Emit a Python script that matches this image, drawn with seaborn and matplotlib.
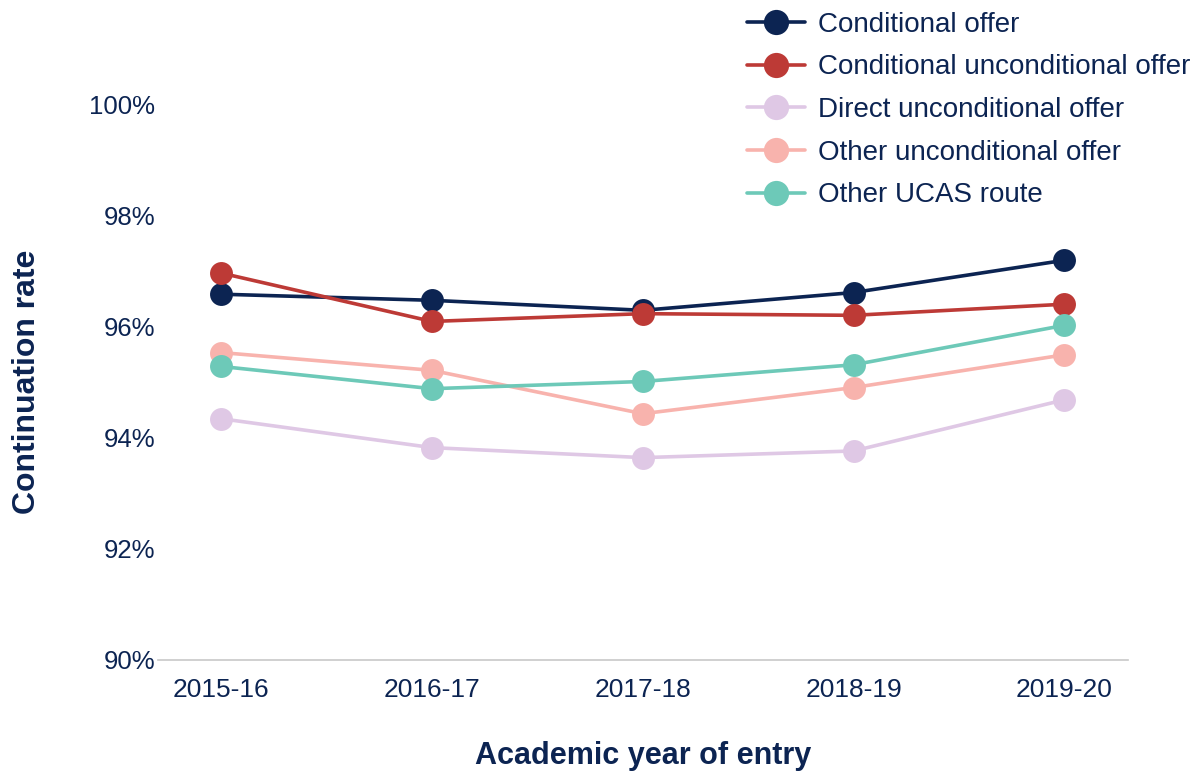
import pandas as pd
import matplotlib.pyplot as plt
import seaborn as sns

# values (continuation rate, %)
years = ['2015-16', '2016-17', '2017-18', '2018-19', '2019-20']
conditional = [96.58, 96.47, 96.29, 96.61, 97.19]
cond_uncond = [96.96, 96.09, 96.23, 96.20, 96.40]
direct_uncond = [94.34, 93.82, 93.64, 93.76, 94.68]
other_uncond = [95.53, 95.21, 94.43, 94.90, 95.49]
other_ucas = [95.28, 94.88, 95.01, 95.31, 96.02]

series_names = ['Conditional offer', 'Conditional unconditional offer',
                'Direct unconditional offer', 'Other unconditional offer',
                'Other UCAS route']
colours = ['#0c2452', '#bd3a36', '#dfc8e5', '#f8b3ad', '#6dc9b8']
navy = '#0c2452'

frames = []
for name, vals in zip(series_names, [conditional, cond_uncond, direct_uncond, other_uncond, other_ucas]):
    frames.append(pd.DataFrame({'year': years, 'rate': vals, 'route': name}))
df = pd.concat(frames, ignore_index=True)

sns.set_style('white')
plt.rcParams['font.family'] = ['Liberation Sans', 'DejaVu Sans']

fig = plt.figure(figsize=(11.97, 7.71), dpi=100)
ax = fig.add_axes([0.132, 0.144, 0.810, 0.721])

sns.lineplot(data=df, x='year', y='rate', hue='route', hue_order=series_names,
             palette=colours, marker='o', markersize=16.5, markeredgewidth=0,
             linewidth=2.6, ax=ax)

ax.set_xlim(-0.3, 4.3)
ax.set_ylim(90, 100)
ax.set_yticks([90, 92, 94, 96, 98, 100])
ax.set_yticklabels([f'{v}%' for v in [90, 92, 94, 96, 98, 100]])

for s in ['top', 'right', 'left']:
    ax.spines[s].set_visible(False)
ax.spines['bottom'].set_color('#c8c8c8')
ax.spines['bottom'].set_linewidth(1.2)

ax.tick_params(axis='y', length=0, pad=2, labelsize=18.5, labelcolor=navy)
ax.tick_params(axis='x', length=7, width=1, color='#555555', pad=6,
               labelsize=19, labelcolor=navy)

ax.set_xlabel('Academic year of entry', fontsize=22, fontweight='bold', color=navy,
              labelpad=28)
ax.set_ylabel('Continuation rate', fontsize=23, fontweight='bold', color=navy, labelpad=34)

leg = fig.legend(*ax.get_legend_handles_labels(), loc='upper left',
                 bbox_to_anchor=(0.624, 0.985), frameon=False,
                 fontsize=20, handlelength=2.1, labelspacing=0.6, handletextpad=0.45,
                 borderpad=0, borderaxespad=0, markerscale=1.1)
ax.get_legend().remove()
for t in leg.get_texts():
    t.set_color(navy)

fig.savefig('out.png', dpi=100)
